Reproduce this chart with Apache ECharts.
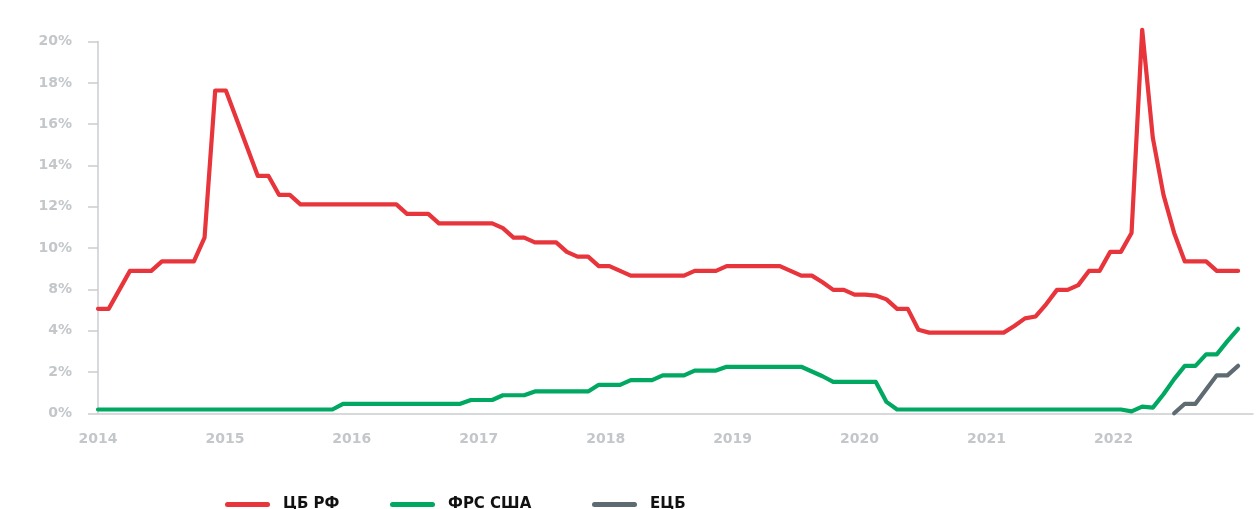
<!DOCTYPE html>
<html>
<head>
<meta charset="utf-8">
<script src="https://cdn.jsdelivr.net/npm/echarts@6/dist/echarts.min.js"></script>
<style>
  html, body { margin: 0; padding: 0; background: #ffffff; }
  #chart { width: 1258px; height: 509px; }
</style>
</head>
<body>
<div id="chart"></div>
<script>
// ---- data (monthly, Jan 2014 .. Dec 2022), % ----
const yearLabels = ['2014', '2015', '2016', '2017', '2018', '2019', '2020', '2021', '2022'];
const yTickLabels = ['0%', '2%', '4%', '8%', '10%', '12%', '14%', '16%', '18%', '20%'];
const seriesNames = ['ЦБ РФ', 'ФРС США', 'ЕЦБ'];

const cbrf = [
  5.5, 5.5, 6.5, 7.5, 7.5, 7.5, 8.0, 8.0, 8.0, 8.0, 9.25, 17.0,          // 2014
  17.0, 15.5, 14.0, 12.5, 12.5, 11.5, 11.5, 11.0, 11.0, 11.0, 11.0, 11.0, // 2015
  11.0, 11.0, 11.0, 11.0, 11.0, 10.5, 10.5, 10.5, 10.0, 10.0, 10.0, 10.0, // 2016
  10.0, 10.0, 9.75, 9.25, 9.25, 9.0, 9.0, 9.0, 8.5, 8.25, 8.25, 7.75,     // 2017
  7.75, 7.5, 7.25, 7.25, 7.25, 7.25, 7.25, 7.25, 7.5, 7.5, 7.5, 7.75,     // 2018
  7.75, 7.75, 7.75, 7.75, 7.75, 7.5, 7.25, 7.25, 6.9, 6.5, 6.5, 6.25,     // 2019
  6.25, 6.2, 6.0, 5.5, 5.5, 4.4, 4.25, 4.25, 4.25, 4.25, 4.25, 4.25,      // 2020
  4.25, 4.25, 4.6, 5.0, 5.1, 5.75, 6.5, 6.5, 6.75, 7.5, 7.5, 8.5,         // 2021
  8.5, 9.5, 20.2, 14.5, 11.5, 9.5, 8.0, 8.0, 8.0, 7.5, 7.5, 7.5           // 2022
];

const fed = [
  0.2, 0.2, 0.2, 0.2, 0.2, 0.2, 0.2, 0.2, 0.2, 0.2, 0.2, 0.2,             // 2014
  0.2, 0.2, 0.2, 0.2, 0.2, 0.2, 0.2, 0.2, 0.2, 0.2, 0.2, 0.5,             // 2015
  0.5, 0.5, 0.5, 0.5, 0.5, 0.5, 0.5, 0.5, 0.5, 0.5, 0.5, 0.7,             // 2016
  0.7, 0.7, 0.95, 0.95, 0.95, 1.15, 1.15, 1.15, 1.15, 1.15, 1.15, 1.5,    // 2017
  1.5, 1.5, 1.75, 1.75, 1.75, 2.0, 2.0, 2.0, 2.25, 2.25, 2.25, 2.45,      // 2018
  2.45, 2.45, 2.45, 2.45, 2.45, 2.45, 2.45, 2.2, 1.95, 1.65, 1.65, 1.65,  // 2019
  1.65, 1.65, 0.6, 0.2, 0.2, 0.2, 0.2, 0.2, 0.2, 0.2, 0.2, 0.2,           // 2020
  0.2, 0.2, 0.2, 0.2, 0.2, 0.2, 0.2, 0.2, 0.2, 0.2, 0.2, 0.2,             // 2021
  0.2, 0.1, 0.35, 0.3, 1.0, 1.8, 2.5, 2.5, 3.1, 3.1, 3.8, 4.45            // 2022
];

const ecb = [
  null, null, null, null, null, null, null, null, null, null, null, null, // 2014
  null, null, null, null, null, null, null, null, null, null, null, null, // 2015
  null, null, null, null, null, null, null, null, null, null, null, null, // 2016
  null, null, null, null, null, null, null, null, null, null, null, null, // 2017
  null, null, null, null, null, null, null, null, null, null, null, null, // 2018
  null, null, null, null, null, null, null, null, null, null, null, null, // 2019
  null, null, null, null, null, null, null, null, null, null, null, null, // 2020
  null, null, null, null, null, null, null, null, null, null, null, null, // 2021
  null, null, null, null, null, 0, 0.5, 0.5, 1.25, 2.0, 2.0, 2.5          // 2022
];

const colors = ['#E8343B', '#00A862', '#5F6B73'];

// ---- chart ----
const chart = echarts.init(document.getElementById('chart'), null, { renderer: 'canvas' });
const FONT = 'DejaVu Sans';
const Y_INT = 2.175;
const pill = 'path://M2.5,0 H42.5 A2.5,2.5 0 0 1 42.5,5 H2.5 A2.5,2.5 0 0 1 2.5,0 Z';

const toPairs = arr => arr.map((v, i) => [i, v]);

function legendFor(name, left) {
  return {
    data: [name], left: left, top: 492, icon: pill,
    itemWidth: 45, itemHeight: 5, selectedMode: false,
    textStyle: { fontFamily: FONT, fontWeight: 'bold', fontSize: 15, color: '#111111', padding: [0, 0, 0, 8] }
  };
}

const option = {
  animation: false,
  backgroundColor: '#ffffff',
  color: colors,
  grid: { left: 98, right: 5, top: 41.6, bottom: 95.7, containLabel: false },
  legend: [
    legendFor(seriesNames[0], 220),
    legendFor(seriesNames[1], 385),
    legendFor(seriesNames[2], 587)
  ],
  xAxis: [
    {
      type: 'value', min: 0, max: 108.4, show: false
    },
    {
      type: 'value', min: 0, max: 9.1, interval: 1, position: 'bottom',
      axisLine: { show: true, lineStyle: { color: '#CACDD0', width: 1.5 } },
      axisTick: { show: false },
      splitLine: { show: false },
      axisLabel: {
        margin: 19, fontFamily: FONT, fontWeight: 'bold', fontSize: 14, color: '#C3C7CA',
        showMaxLabel: false,
        formatter: v => (Number.isInteger(v) && v < yearLabels.length) ? yearLabels[v] : ''
      }
    }
  ],
  yAxis: {
    type: 'value', min: 0, max: Y_INT * 9, interval: Y_INT,
    axisLine: { show: true, lineStyle: { color: '#CACDD0', width: 1.5 } },
    axisTick: { show: true, length: 10, lineStyle: { color: '#CACDD0', width: 1.5 } },
    splitLine: { show: false },
    axisLabel: {
      margin: 26, fontFamily: FONT, fontWeight: 'bold', fontSize: 14, color: '#C3C7CA',
      formatter: v => yTickLabels[Math.round(v / Y_INT)] || ''
    }
  },
  series: [
    { name: seriesNames[0], data: cbrf, color: colors[0] },
    { name: seriesNames[1], data: fed, color: colors[1] },
    { name: seriesNames[2], data: ecb, color: colors[2] }
  ].map(s => ({
    name: s.name,
    type: 'line',
    xAxisIndex: 0,
    data: toPairs(s.data),
    showSymbol: false,
    symbol: 'none',
    clip: false,
    connectNulls: false,
    lineStyle: { color: s.color, width: 4.2, join: 'round', cap: 'round' },
    itemStyle: { color: s.color },
    emphasis: { disabled: true }
  }))
};

chart.setOption(option);
</script>
</body>
</html>
